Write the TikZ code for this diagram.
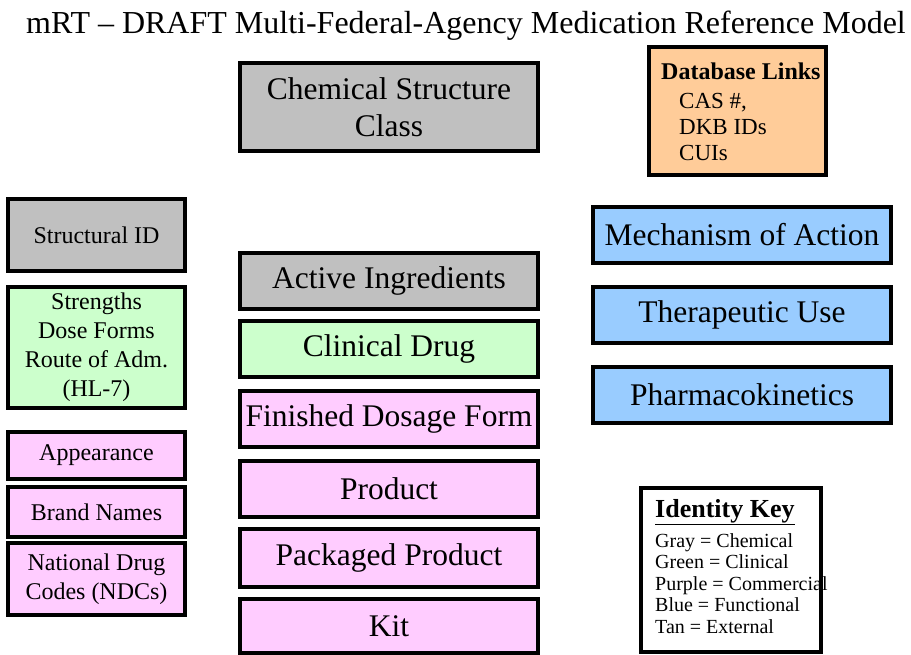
\documentclass[tikz,border=0pt]{standalone}
\usepackage{fontspec}
\setmainfont{Liberation Serif}
\usepackage{xcolor}
\usepackage{tikz}
\definecolor{chemgray}{HTML}{C0C0C0}
\definecolor{clingreen}{HTML}{CCFFCC}
\definecolor{commpink}{HTML}{FFCCFF}
\definecolor{funcblue}{HTML}{99CCFF}
\definecolor{exttan}{HTML}{FFCC99}

\begin{document}
\begin{tikzpicture}[x=1pt,y=-1pt,
box/.style={draw,line width=3.5pt,align=center,inner sep=0pt},
chem/.style={box,fill=chemgray},
clin/.style={box,fill=clingreen},
comm/.style={box,fill=commpink},
func/.style={box,fill=funcblue},
ext/.style={box,fill=exttan},
midcol/.style={minimum width=298,font=\fontsize{31.5}{37}\selectfont},
leftcol/.style={minimum width=177,font=\fontsize{24}{29}\selectfont},
keytext/.style={inner sep=0pt,anchor=base west}
]
\useasboundingbox (0,0) rectangle (911,654);
\node[anchor=base,inner sep=0pt,font=\fontsize{32}{37}\selectfont] (title) at (466,33)
  {mRT -- DRAFT Multi-Federal-Agency Medication Reference Model};
% middle column
\node[chem,midcol,minimum height=88] (chemclass) at (389,107) {Chemical Structure\\Class};
\node[chem,midcol,minimum height=56] (active) at (389,281) {Active Ingredients};
\node[clin,midcol,minimum height=56] (clinical) at (389,349) {Clinical Drug};
\node[comm,midcol,minimum height=56] (finished) at (389,419) {Finished Dosage Form};
\node[comm,midcol,minimum height=56] (product) at (389,489) {Product};
\node[comm,midcol,minimum height=58] (packaged) at (389,558) {Packaged Product};
\node[comm,midcol,minimum height=54] (kit) at (389,626) {Kit};
% left column
\node[chem,leftcol,minimum height=72] (structid) at (96.5,235) {Structural ID};
\node[clin,leftcol,minimum height=121] (strengths) at (96.5,347.5)
  {Strengths\\Dose Forms\\Route of Adm.\\(HL-7)};
\node[comm,leftcol,minimum height=47] (appearance) at (96.5,455.5) {Appearance};
\node[comm,leftcol,minimum height=50] (brand) at (96.5,512) {Brand Names};
\node[comm,leftcol,minimum height=72] (ndc) at (96.5,579) {National Drug\\Codes (NDCs)};
% right column
\node[func,midcol,minimum height=56] (mechanism) at (742,235) {Mechanism of Action};
\node[func,midcol,minimum height=56] (therapeutic) at (742,315) {Therapeutic Use};
\node[func,midcol,minimum height=56] (pharmaco) at (742,395) {Pharmacokinetics};
% external links
\node[ext,minimum width=177,minimum height=128] (dblinks) at (737.5,111) {};
\node[keytext,font=\fontsize{24}{26}\bfseries] (dbtitle) at (661,79) {Database Links};
\foreach \txt [count=\i] in {CAS \#{,}, DKB IDs, CUIs}
  \node[keytext,font=\fontsize{23}{26}\selectfont] (db\i) at (679,82+26*\i) {\txt};
% key
\node[box,fill=white,minimum width=180,minimum height=164] (idkey) at (731,570) {};
\node[keytext,font=\fontsize{26}{28}\bfseries] (keytitle) at (655,517) {\underline{Identity Key}};
\foreach \txt [count=\i] in {Gray = Chemical, Green = Clinical, Purple = Commercial,
  Blue = Functional, Tan = External}
  \node[keytext,font=\fontsize{20}{22}\selectfont] (key\i) at (655,525.5+21.5*\i) {\txt};
\end{tikzpicture}
\end{document}
